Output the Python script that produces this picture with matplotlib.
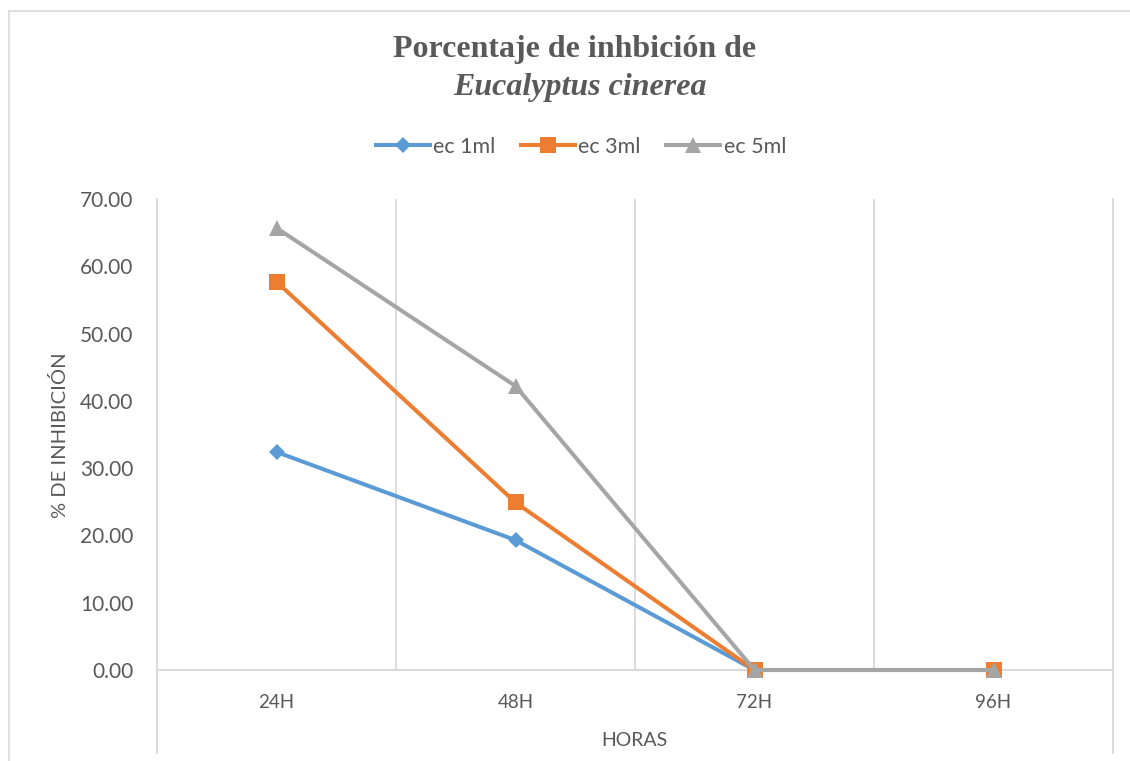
import matplotlib
matplotlib.use("Agg")
import matplotlib.pyplot as plt
from matplotlib.lines import Line2D
from matplotlib.patches import Rectangle

categories = ["24H", "48H", "72H", "96H"]
ec1 = [32.4, 19.3, 0.0, 0.0]
ec3 = [57.7, 24.9, 0.0, 0.0]
ec5 = [65.7, 42.2, 0.0, 0.0]
series_names = ["ec 1ml", "ec 3ml", "ec 5ml"]
yticks = [0, 10, 20, 30, 40, 50, 60, 70]

W, H = 1130, 761
fig = plt.figure(figsize=(W / 100, H / 100), dpi=100)
fig.patch.set_facecolor("white")

def fx(px):
    return px / W

def fy(py):
    return 1 - py / H

# chart border
fig.add_artist(Rectangle((fx(9), fy(800)), fx(1200), fy(11) - fy(800), transform=fig.transFigure,
                         fill=False, edgecolor="#D9D9D9", linewidth=1.2))

left, right, top, bottom = 157, 1113, 199, 670
ax = fig.add_axes([fx(left), fy(bottom), fx(right) - fx(left), fy(top) - fy(bottom)])
ax.set_facecolor("none")
for s in ax.spines.values():
    s.set_visible(False)

x = list(range(len(categories)))
ax.set_xlim(-0.5, len(categories) - 0.5)
ax.set_ylim(0, 70)

grid_c = "#D9D9D9"
for b in [0.5, 1.5, 2.5]:
    ax.plot([b, b], [0, 70], color=grid_c, lw=1.3, zorder=1)
ext = -(753 - bottom) / ((bottom - top) / 70)
for b in [-0.5, 3.5]:
    ax.plot([b, b], [ext, 70], color=grid_c, lw=1.3, zorder=1, clip_on=False)
ax.plot([-0.5, 3.5], [0, 0], color=grid_c, lw=1.5, zorder=1, clip_on=False)

colors = ["#5B9BD5", "#ED7D31", "#A5A5A5"]
markers = ["D", "s", "^"]
msizes = [8.5, 12, 12]
for vals, c, m, ms, name in zip([ec1, ec3, ec5], colors, markers, msizes, series_names):
    ax.plot(x, vals, color=c, lw=2.9, marker=m, markersize=ms, markeredgewidth=0,
            label=name, zorder=3, clip_on=False)

text_c = "#595959"
ax.set_yticks(yticks)
ax.set_yticklabels([f"{v:.2f}" for v in yticks], fontsize=15, color=text_c, family="Lato")
ax.tick_params(axis="y", length=0, pad=17)
ax.set_xticks(x)
ax.set_xticklabels(categories, fontsize=13.5, color=text_c, family="Lato")
ax.tick_params(axis="x", length=0, pad=17)

ax.set_ylabel("% DE INHIBICIÓN", fontsize=14.5, color=text_c, family="Lato")
ax.yaxis.set_label_coords(fx(60) - fx(left), 0.5, transform=fig.transFigure)
ax.yaxis.label.set_verticalalignment("center")
ax.yaxis.label.set_position((fx(60), fy(435)))

fig.text(fx(634), fy(741), "HORAS", fontsize=14, color=text_c, family="Lato",
         ha="center", va="center")

# title
fig.text(fx(575), fy(50), "Porcentaje de inhbición de", fontsize=23, fontweight="bold",
         family="Liberation Serif", color=text_c, ha="center", va="center")
fig.text(fx(580), fy(88), "Eucalyptus cinerea", fontsize=23, fontweight="bold", style="italic",
         family="Liberation Serif", color=text_c, ha="center", va="center")

handles = [Line2D([0], [0], color=c, lw=2.9, marker=m, markersize=ms, markeredgewidth=0)
           for c, m, ms in zip(colors, markers, msizes)]
leg = fig.legend(handles, series_names, loc="center", bbox_to_anchor=(fx(581), fy(147)),
                 ncol=3, frameon=False, prop={"family": "Lato", "size": 15.5},
                 handlelength=2.5, handletextpad=0.15, columnspacing=1.2)
for t in leg.get_texts():
    t.set_color(text_c)

fig.savefig("out.png", dpi=100, facecolor="white")
